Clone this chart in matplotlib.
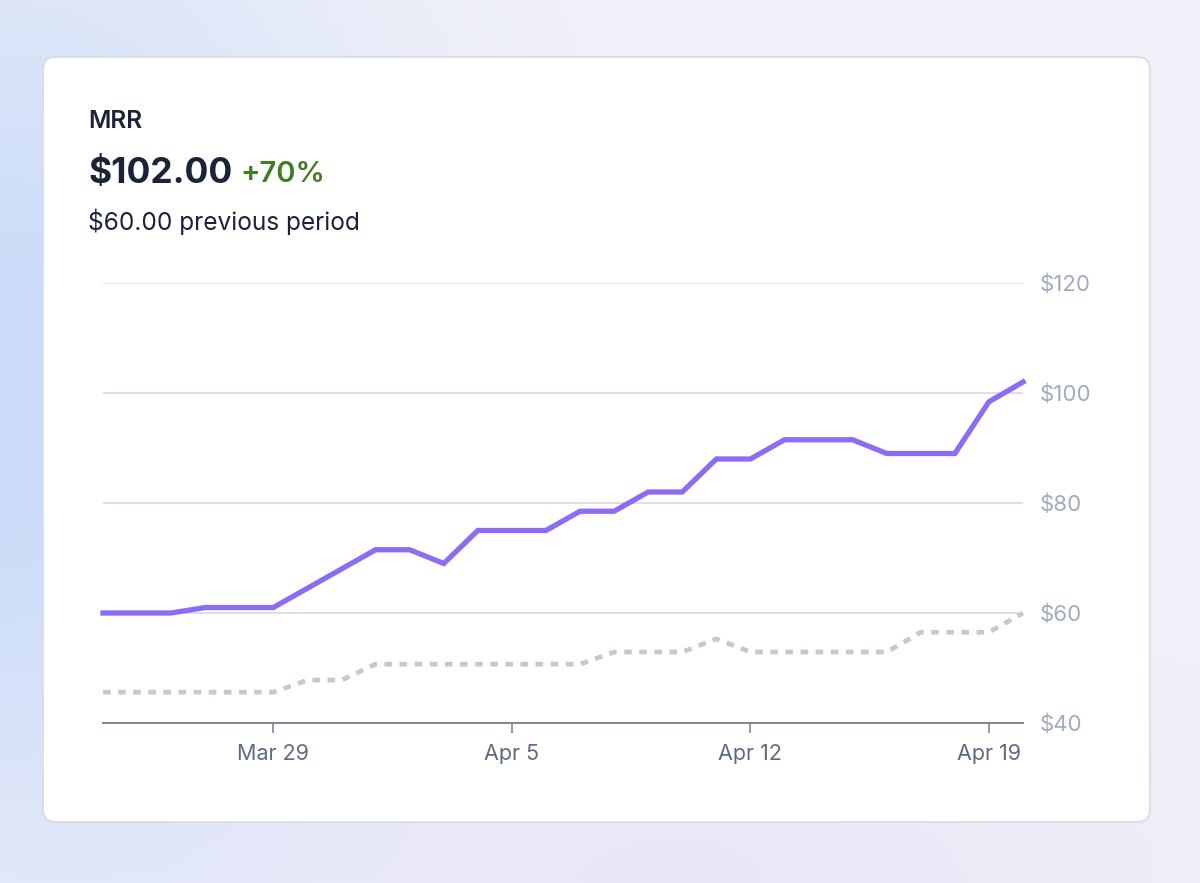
import numpy as np
import pandas as pd
import matplotlib
matplotlib.use("Agg")
import matplotlib.pyplot as plt
import matplotlib.dates as mdates
from matplotlib.patches import FancyBboxPatch
from matplotlib.ticker import FixedLocator, FuncFormatter

plt.rcParams['font.family'] = ['Inter', 'DejaVu Sans']

# data
dates = pd.date_range("2024-03-24", "2024-04-20", freq="D")
mrr = [60, 60, 60, 61, 61, 61, 64.5, 68, 71.5, 71.5, 69, 75, 75, 75,
       78.5, 78.5, 82, 82, 88, 88, 91.5, 91.5, 91.5, 89, 89, 89, 98.4, 102]
prev = [45.6, 45.6, 45.6, 45.6, 45.6, 45.6, 47.8, 47.8, 50.7, 50.7, 50.7, 50.7, 50.7, 50.7,
        50.7, 52.9, 52.9, 52.9, 55.3, 52.9, 52.9, 52.9, 52.9, 52.9, 56.5, 56.5, 56.5, 60]
x_ticks = ["2024-03-29", "2024-04-05", "2024-04-12", "2024-04-19"]
y_ticks = [40, 60, 80, 100, 120]

W, H = 1200, 883
fig = plt.figure(figsize=(W / 100, H / 100), dpi=100)

# background gradient
bg = fig.add_axes([0, 0, 1, 1], zorder=0)
yy, xx = np.mgrid[0:1:200j, 0:1:270j]
base = np.array([0.945, 0.945, 0.975])
blue = np.array([0.79, 0.86, 0.975])
lav = np.array([0.90, 0.885, 0.965])
wb = np.exp(-((xx - 0.0) ** 2 / 0.09 + (yy - 0.45) ** 2 / 0.30))
wl = np.exp(-((xx - 0.6) ** 2 / 0.15 + (yy - 1.0) ** 2 / 0.05)) * 0.6
rest = (1 - wb - wl).clip(0, 1)
img = (base * rest[..., None] + blue * wb[..., None] + lav * wl[..., None])
img = img / (rest + wb + wl)[..., None]
bg.imshow(img.clip(0, 1), extent=[0, 1, 0, 1], aspect="auto", origin="upper")
bg.axis("off")

# white card
card = FancyBboxPatch((43 / W, 1 - 822 / H), (1150 - 43) / W, (822 - 57) / H,
                      boxstyle="round,pad=0,rounding_size=0.011",
                      transform=fig.transFigure, facecolor="white",
                      edgecolor="#d5dbe6", linewidth=1.2, zorder=1,
                      mutation_aspect=W / H)
fig.patches.append(card)

# header texts
dark = "#1a2338"
fig.text(88 / W, 1 - 128 / H, "MRR", fontsize=17.5, fontweight="semibold", color=dark, zorder=3)
fig.text(88 / W, 1 - 183 / H, "$102.00", fontsize=25.5, fontweight="bold", color=dark, zorder=3)
fig.text(240 / W, 1 - 182 / H, "+70%", fontsize=21, fontweight="semibold", color="#3f7d20", zorder=3)
fig.text(88 / W, 1 - 230 / H, "$60.00 previous period", fontsize=17.6, color=dark, zorder=3)

# chart
ax = fig.add_axes([103 / W, 1 - 723 / H, (1023 - 103) / W, 440 / H], zorder=2)
ax.patch.set_alpha(0)
ax.plot(dates, mrr, color="#8b6cf2", linewidth=3.8, solid_joinstyle="miter",
        clip_on=False, zorder=4)
ax.plot(dates, prev, color="#c3c8d1", linewidth=3.4, linestyle=(0, (1.6, 1.6)),
        dash_capstyle="butt", clip_on=False, zorder=3)

ax.set_xlim(dates[0], dates[-1])
ax.set_ylim(40, 120)
ax.yaxis.set_major_locator(FixedLocator(y_ticks))
ax.yaxis.set_major_formatter(FuncFormatter(lambda v, p: f"${v:.0f}"))
ax.yaxis.tick_right()
ax.tick_params(axis="y", length=0, pad=12, labelsize=16, labelcolor="#a2abbb")
ax.grid(axis="y", color="#d6dde8", linewidth=1.3)
ax.set_axisbelow(True)

ax.xaxis.set_major_locator(FixedLocator(mdates.date2num(pd.to_datetime(x_ticks))))
ax.xaxis.set_major_formatter(mdates.DateFormatter("%b %-d"))
ax.tick_params(axis="x", length=7, width=1.2, color="#7d8799", pad=8,
               labelsize=15.5, labelcolor="#5f6b7e")

for s in ["top", "left", "right"]:
    ax.spines[s].set_visible(False)
ax.spines["bottom"].set_color("#7d8799")
ax.spines["bottom"].set_linewidth(1.4)

fig.savefig("out.png", dpi=100)
